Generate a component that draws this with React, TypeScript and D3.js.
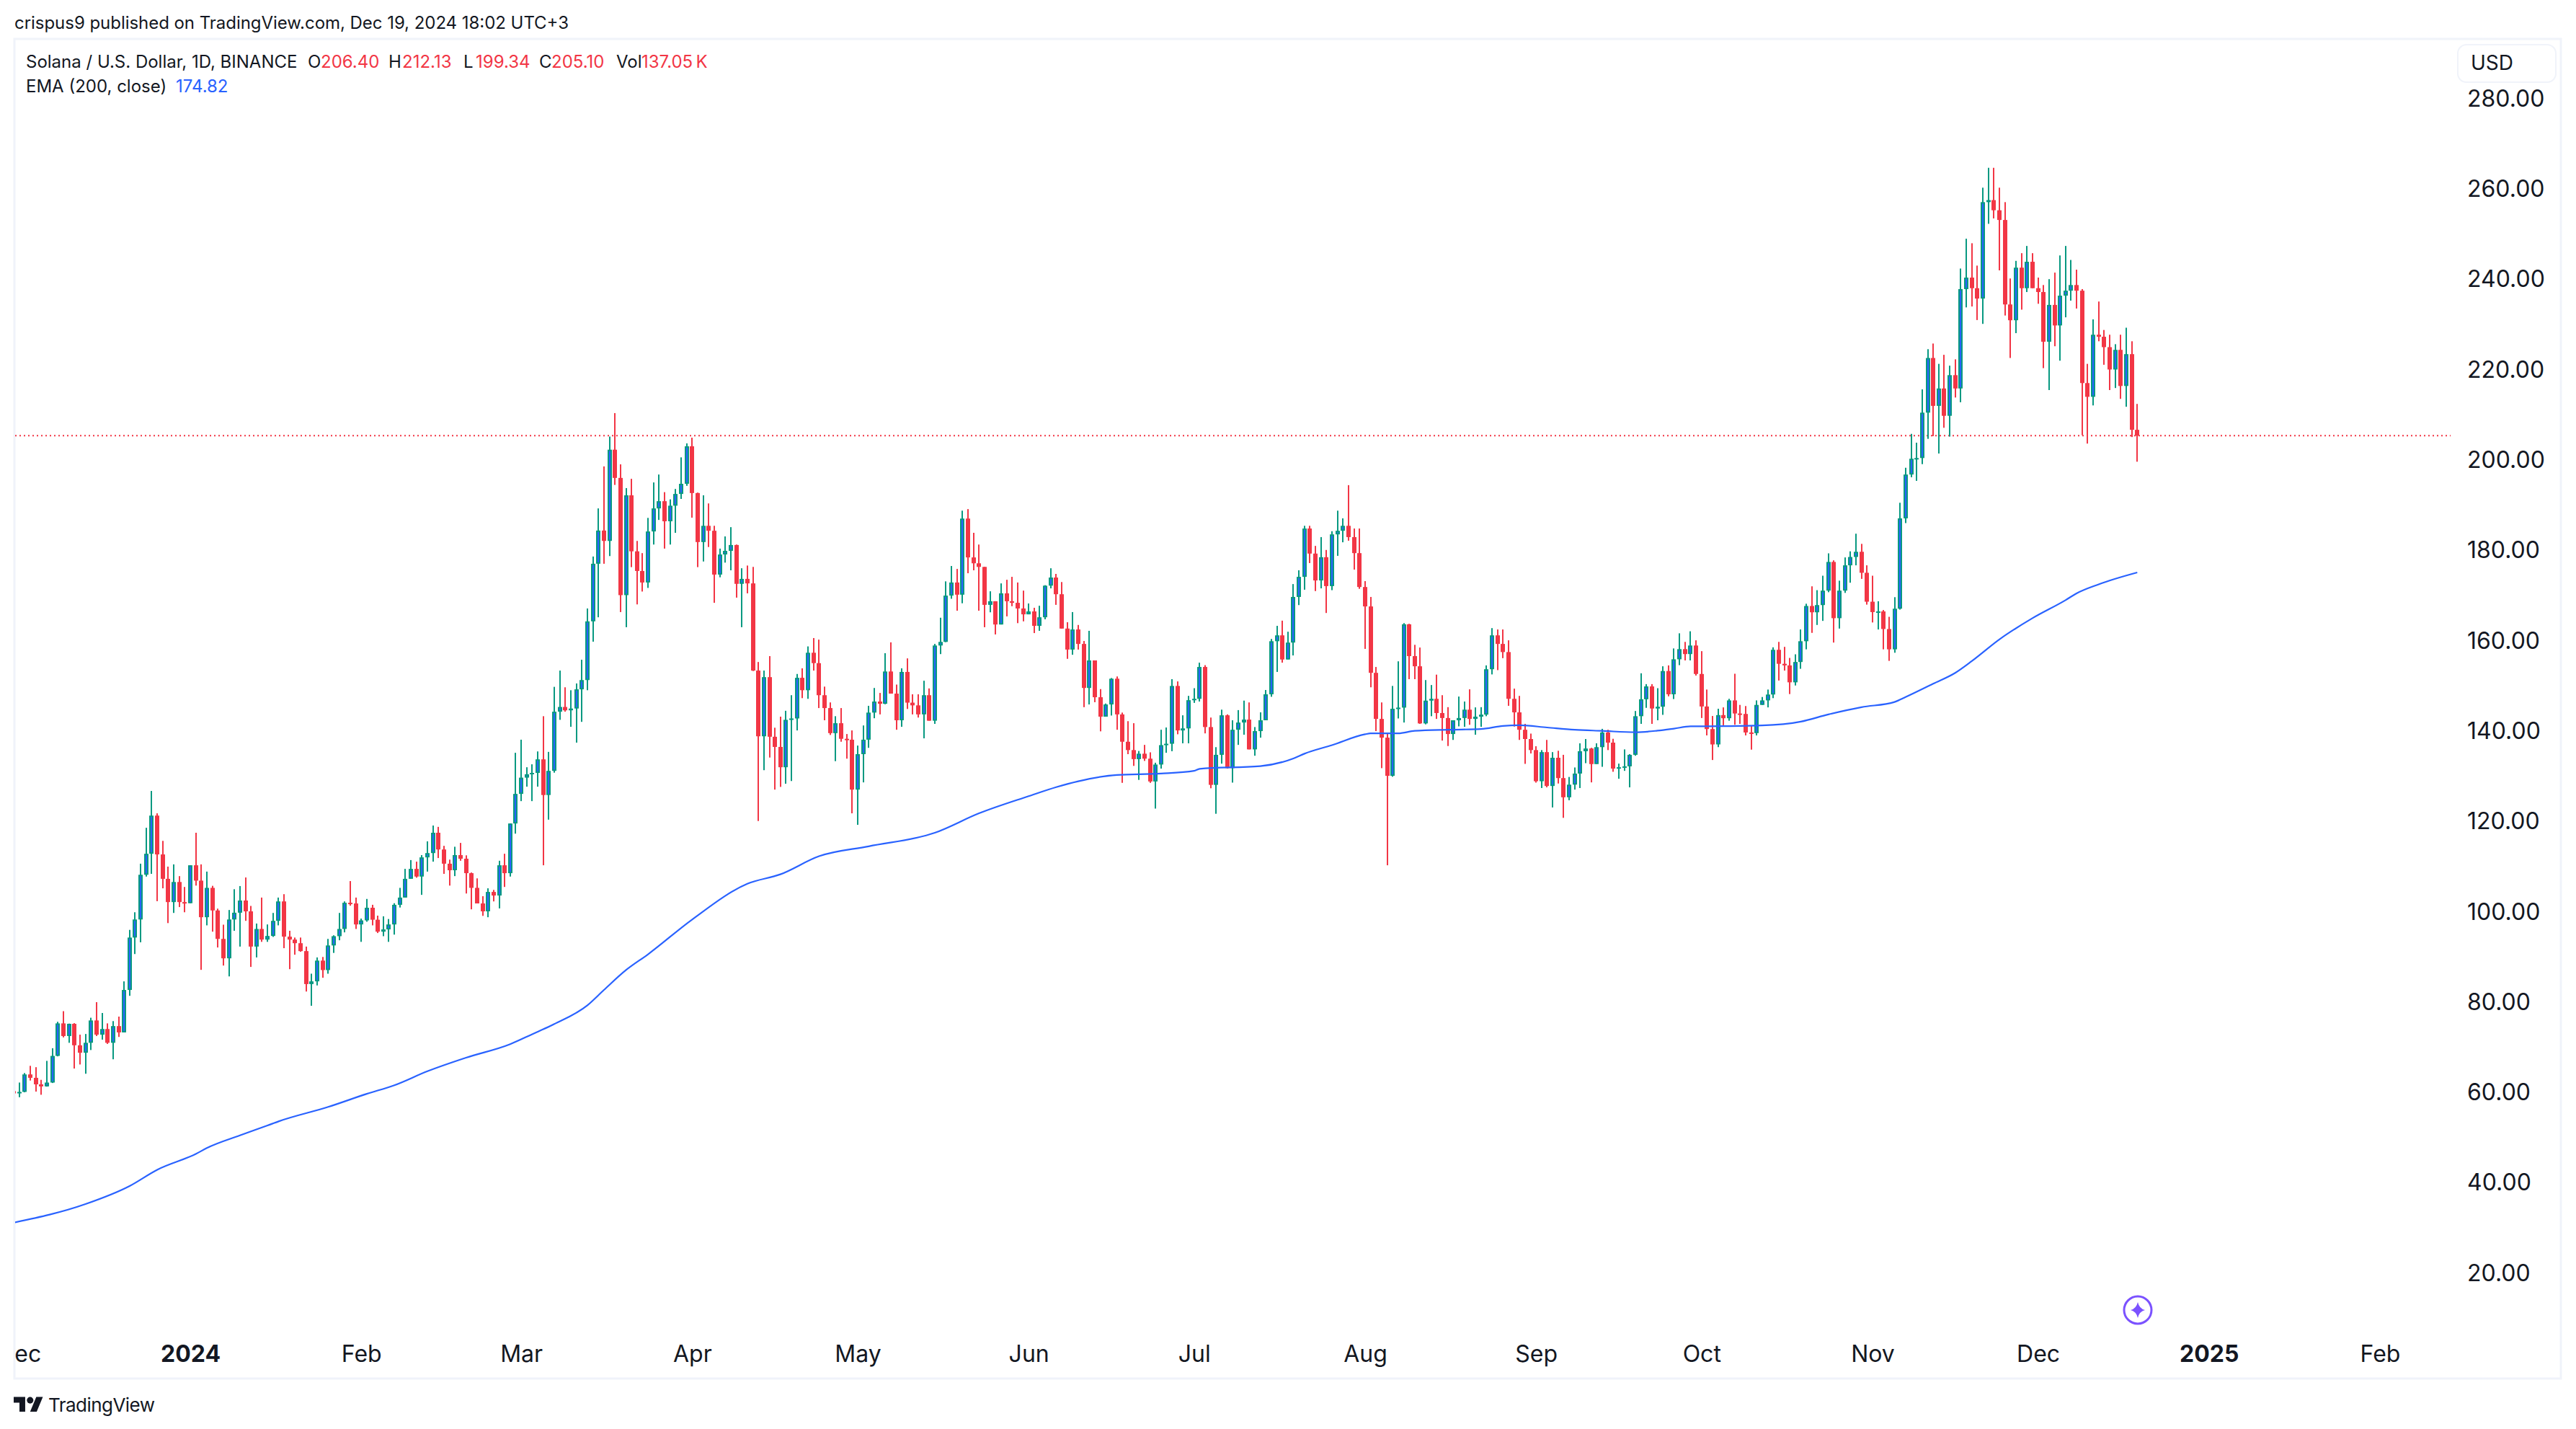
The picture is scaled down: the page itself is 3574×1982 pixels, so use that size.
import { useEffect, useRef } from 'react';
import * as d3 from 'd3';

const WIDTH = 3574;
const HEIGHT = 1982;
const FONT = 'Inter, "Noto Sans", sans-serif';
const UP = '#089981';
const UP_CORE = '#2962FF';
const DOWN = '#F23645';
const INK = '#131722';
const FRAME = '#F0F3FA';

const firstDay = new Date(Date.UTC(2023, 10, 30));
const firstOpen = 60;

// daily closes from 30 Nov 2023 (open = previous close)
const closes = [
  59.5, 59.83, 63.7, 62.95, 61.5, 61.05, 61.9, 67.8, 75, 72.2,
  74.9, 70.15, 68.5, 70.7, 75.65, 72.5, 73.75, 70.7, 74.4, 73,
  82.4, 94, 98, 107.9, 112.55, 121, 112.4, 107, 101.85, 106.3,
  101.85, 101.6, 110, 106.6, 98.5, 105, 100, 93.7, 89.4, 98,
  99.5, 102.2, 99.8, 92, 95.9, 93.55, 94.35, 97.7, 102, 94.2,
  93.55, 92.75, 91, 83.7, 84.3, 88.9, 86.8, 92.25, 94.3, 95.9,
  101.7, 101.55, 96.9, 97.8, 100.6, 97.95, 95.3, 95.8, 96.9, 101.25,
  102.85, 107, 109.2, 107.5, 111.75, 112.7, 117.2, 113.5, 110.35, 108.9,
  112.25, 111.45, 108.25, 105, 101.55, 99.8, 104.1, 103.3, 110, 108.25,
  119.25, 125.8, 129.4, 130.15, 130.45, 133.45, 125.55, 130.9, 144, 145.05,
  144.3, 144.7, 148.95, 151, 164, 176.75, 184.1, 181.8, 202, 195.75,
  169.8, 191.9, 179.5, 175.15, 172.6, 183.9, 189, 190.6, 186.15, 189.6,
  192.2, 194.45, 202.75, 192.4, 181.55, 185.15, 184.05, 174.35, 178.8, 179.6,
  180.9, 172.3, 173.4, 172.4, 153.1, 138.55, 151.65, 138.45, 136.2, 131.7,
  142.2, 142.5, 151.5, 148.75, 157.05, 154.75, 147.65, 144.8, 139.25, 141.45,
  138, 137.8, 126.75, 134.6, 137.8, 143.8, 146.25, 145.75, 152.9, 148,
  142.1, 152.8, 146, 145.4, 143.4, 147.65, 142, 158.65, 159.45, 169.7,
  172.6, 169.9, 186.75, 178.15, 176.85, 176.05, 167.65, 168.45, 163.3, 170.2,
  168.45, 168.1, 166.85, 165.55, 166.2, 163, 164.9, 171.9, 173.7, 170,
  162.4, 157.75, 162.2, 159, 149.25, 155.35, 147.2, 142.9, 145.6, 151.3,
  143.4, 137.35, 135.5, 133.5, 134.7, 133.6, 128.55, 132.3, 136.6, 136.9,
  149.7, 139.85, 140.3, 146.55, 146.85, 153.9, 140.6, 127.8, 134.45, 143.2,
  131.5, 140, 141.6, 142.25, 135.65, 139.7, 142.1, 147.85, 159.6, 160.9,
  155.55, 159.3, 169.4, 173.85, 184.55, 179, 173.05, 178.2, 171.8, 183.25,
  184.05, 185.15, 182.65, 179.1, 171.6, 167.3, 152.6, 142.4, 138.25, 129.8,
  144.65, 144.9, 163.35, 156.3, 154.05, 141.4, 146.45, 146.85, 143.7, 142.6,
  139.05, 142.1, 142.6, 144.45, 142.4, 142.9, 143.35, 153.4, 160.9, 159,
  157.2, 146.85, 143.85, 140, 137.95, 135.5, 128.6, 135.05, 127.55, 133.8,
  129.3, 125.05, 127.85, 130.3, 135.25, 135.85, 132.4, 136.15, 139.4, 137.15,
  131.4, 131.7, 131.9, 134.45, 143, 146.75, 149.6, 144.7, 145.1, 153,
  147.85, 155.6, 157.85, 156.75, 158.65, 152.35, 145.15, 140.15, 136.75, 143.25,
  142.55, 146.5, 143.6, 143.5, 139.4, 139.25, 145.5, 146.5, 147.8, 157.7,
  154.6, 154.25, 150.5, 155, 159.6, 167.4, 166, 167.6, 170.8, 177.15,
  164.7, 170.8, 176.4, 178.25, 179.4, 174.75, 168.35, 166.05, 166.2, 162.3,
  157.8, 166.8, 186.8, 196.5, 200, 200.15, 210.2, 222.3, 211.7, 215.55,
  209.5, 218.5, 215.55, 237.55, 240.1, 237.75, 235.45, 256.8, 257.25, 255,
  252.85, 234.15, 230.65, 242.3, 237.75, 243.6, 237.75, 236.9, 225.9, 234.05,
  229.5, 236.1, 237.2, 238.45, 237.2, 216.75, 213.7, 227.45, 227, 224.7,
  219.75, 224.1, 216.1, 223.15, 206.4, 205.1,
];

const highs = [
  60, 61.9, 64, 65.6, 65.3, 62.5, 66.7, 69.5, 75.35, 77.7,
  74.95, 75.05, 72.5, 72.65, 76.25, 79.7, 77.3, 75, 75.5, 76.5,
  84.3, 95.7, 99.6, 110.35, 118.3, 126.45, 121.5, 115.4, 109.7, 110.2,
  107.6, 105.2, 110, 117.2, 110.2, 108.6, 105.45, 100.4, 96.85, 100.1,
  104.7, 105.4, 107.3, 101, 97.1, 102.85, 96.9, 99.45, 102.85, 103.6,
  95.5, 94, 94, 92, 86, 89.6, 89.7, 93.7, 94.5, 99.45,
  102, 106.5, 102.85, 98.2, 102.55, 101.25, 98.85, 98.7, 98.1, 101.6,
  105, 109.2, 111.15, 110.8, 112.25, 115.3, 118.8, 118.5, 114.3, 111.25,
  114.1, 114.95, 112.2, 108.4, 107.1, 103.15, 104.9, 104.55, 111, 112.55,
  119.25, 134.9, 137.8, 131.7, 132.35, 135.2, 143, 135.1, 149.5, 153.1,
  149.4, 148.75, 150.25, 155.5, 166.85, 178.35, 189, 198.3, 204.9, 210.1,
  198.75, 193.5, 195.55, 181.8, 179.1, 186.9, 194.75, 196.5, 192.6, 191,
  193.3, 200.3, 203.4, 204.65, 192.5, 191.9, 190.1, 185.15, 180.1, 182.8,
  184.85, 181, 175.75, 176.35, 176.05, 155, 153.1, 156.3, 140.45, 142.9,
  144.2, 147.65, 152.35, 153.6, 158.45, 160.3, 159.95, 149.55, 146.05, 143,
  144.8, 139.05, 139.85, 136.5, 140.95, 145.3, 149.25, 148.15, 156.95, 159.35,
  150, 153.6, 155.8, 147.85, 147.85, 150.85, 149.15, 159, 164.8, 172.85,
  176.25, 175.6, 188.5, 188.85, 183.6, 181, 176.05, 170.65, 168.45, 172.4,
  173.2, 173.85, 172.6, 170.8, 167.95, 167, 167.45, 172, 175.75, 174.5,
  172.7, 163.8, 166.05, 163.2, 159.65, 161.9, 155.2, 149, 145.8, 151.45,
  151.8, 143.8, 141.9, 141.45, 135.3, 136.65, 135, 132.7, 140, 140.5,
  151.2, 150.7, 143.2, 147.5, 149.2, 154.85, 154.3, 142.7, 136.15, 144.45,
  143.4, 142.1, 144.35, 146.45, 146.05, 140.6, 143.85, 148.8, 160.1, 163,
  164.15, 161.7, 172.25, 175.3, 185.15, 185.15, 180.7, 182.65, 179.8, 183.95,
  188.5, 186.8, 194.15, 184.55, 184.55, 172.9, 169.4, 153.9, 146.05, 139.2,
  149.7, 155.15, 163.6, 163.45, 158.8, 158.2, 151, 149.9, 152.2, 147.65,
  145, 142.1, 147.35, 146.25, 148.95, 144.95, 145, 154.25, 162.5, 162.2,
  162.2, 159.8, 149.1, 147.5, 141.3, 139.15, 136.35, 135.5, 137.75, 135.05,
  135.35, 134.45, 129.55, 131.65, 137, 137.95, 136, 137, 140.2, 140,
  138, 132.5, 135.65, 134.6, 144.15, 152.5, 150.1, 150.1, 149.2, 154.05,
  154.25, 158, 161.35, 159.45, 161.8, 159.8, 157.4, 148.9, 143.05, 144.65,
  144.95, 146.85, 152.4, 145.5, 145.25, 140.85, 146.5, 147.25, 148.9, 158.25,
  159.45, 158.35, 155.9, 156.7, 162.2, 167.9, 171.75, 170.9, 174.1, 179.05,
  177.5, 173, 178.15, 179.5, 183.4, 181.15, 176.4, 174.1, 168.45, 166.5,
  165, 169.35, 190.25, 198, 205.5, 203.55, 215.35, 224.25, 225.5, 221,
  223, 220.6, 222, 242.1, 248.7, 247.7, 242.75, 260, 264.4, 264.4,
  260, 256.8, 239.9, 243.8, 245.5, 247.1, 245.5, 240.1, 238.45, 239.75,
  241.2, 245, 247.1, 244, 241.85, 237.55, 221, 230.85, 234.8, 228.5,
  227.45, 225.35, 227.45, 229, 226, 212.13,
];

const lows = [
  59, 58.65, 59.75, 62.35, 59.9, 59.2, 61, 61.8, 67.7, 71.9,
  70.7, 65, 65.9, 63.85, 69.1, 72.2, 71.4, 70.45, 67.05, 72,
  73, 81.1, 90.35, 92.95, 107.5, 108.1, 102.05, 104.9, 97.2, 99.45,
  100.75, 99.6, 101.6, 105.5, 86.85, 96.7, 95.3, 91.8, 87.8, 85.4,
  95.5, 92, 97.7, 87.5, 89.6, 93.05, 93.05, 94.15, 96.7, 91.65,
  87, 90.2, 90.85, 82.05, 78.9, 83.4, 85.1, 86, 90.6, 93.4,
  95.15, 101.05, 95.9, 93.05, 97.5, 96.7, 95, 94.3, 93.05, 94.65,
  100.65, 102.85, 107, 107.25, 103.45, 108.6, 110.8, 111.6, 108.1, 105.5,
  107.6, 111, 103.75, 100.25, 101.6, 98.8, 98.5, 102, 100.45, 105.2,
  107.5, 117, 124.2, 127.4, 124.2, 127.4, 110, 120.1, 130.5, 142.2,
  144, 140.65, 137.15, 141.75, 148.75, 159.5, 164.9, 176.75, 178.45, 194.2,
  166.05, 162.7, 176, 167.75, 170.6, 171.4, 181, 186.45, 180.1, 181,
  183.6, 191.1, 194, 186.95, 176, 177.25, 180.45, 168.1, 173.75, 177,
  175.3, 169.25, 162.7, 170.2, 153, 119.8, 131.05, 133.85, 126.75, 127.35,
  128.05, 128.65, 139.85, 147, 146.85, 153.1, 144.8, 142.1, 138.85, 133.05,
  137.35, 133.6, 121.5, 118.95, 128.35, 136, 142.55, 143.4, 145.65, 148,
  140, 140.65, 144.6, 143.4, 142.7, 138.1, 142, 141.3, 156.75, 159.4,
  169, 166.35, 168, 174.65, 175.3, 166.35, 162.7, 166, 161.1, 163.3,
  165.1, 167.35, 163.6, 164, 165.55, 161.4, 161.9, 164.45, 171.3, 167.65,
  162.4, 155.7, 156.6, 157.75, 145, 145.6, 146.1, 139.65, 142.9, 143.15,
  140, 128.25, 134.6, 132, 128.9, 133.1, 128.25, 122.55, 131.4, 134.9,
  135.25, 139, 137, 137, 145.95, 146.25, 139.2, 127.05, 121.4, 132.5,
  131.4, 128.3, 136.65, 138.9, 135.65, 134.25, 138.25, 142.1, 147.3, 152.8,
  154.85, 155.55, 156.45, 167.6, 171, 176.9, 170.7, 171.3, 165.85, 170.9,
  178.5, 181.5, 181.85, 175.45, 171.2, 157.9, 149.4, 139.7, 131.5, 110,
  129.6, 142.5, 141.6, 151.2, 151.2, 141.3, 141.2, 143, 142.4, 137.6,
  136.4, 137.75, 140.75, 140.65, 141.1, 138.9, 140.65, 143, 152.25, 153.2,
  155.85, 145.3, 140.7, 137.75, 132.45, 134.75, 128.3, 127.1, 127.25, 122.8,
  128.1, 120.5, 124.4, 126.75, 127.1, 132.6, 128.35, 132.45, 131.8, 135.5,
  130.7, 129.15, 130.9, 127.25, 134.25, 141.3, 144.85, 141.3, 142.1, 143.3,
  147.4, 146.8, 154.3, 155.35, 155.35, 152, 142.6, 138.75, 133.3, 136.15,
  141, 142, 141.1, 141.3, 138.75, 135.6, 138.75, 145.5, 144.95, 147,
  150.9, 153.1, 147.9, 149.8, 153.5, 157.8, 161.45, 163.2, 164.1, 170.45,
  159.3, 162.4, 170.3, 172.55, 176.4, 173.4, 167.7, 163.75, 162.2, 157.8,
  155.25, 157.05, 166.6, 185.75, 195.9, 195.1, 198.8, 204.4, 205, 201.15,
  206.85, 204.9, 213.55, 212.5, 233.5, 233.7, 230.7, 229.85, 252, 253.2,
  241.7, 231.7, 222.3, 227.8, 233, 236.9, 237.75, 234.3, 220.05, 215.2,
  224.9, 221.7, 231.3, 235, 233.25, 205.2, 203.35, 211.8, 226, 220.8,
  215.2, 215.65, 213.25, 211.5, 204.8, 199.34,
];

// EMA 200 read at candle offsets along the line
const emaDays = [
  0, 13, 21, 26, 33, 35, 41, 46, 48, 57, 64, 69, 75, 82, 90, 94, 98, 104, 107, 111, 115,
  123, 133, 139, 146, 155, 167, 175, 184, 189, 193, 200, 208, 214, 215, 226, 232, 234, 239,
  245, 246, 251, 254, 260, 266, 270, 273, 278, 283, 288, 294, 298, 301, 304, 310, 317, 324,
  329, 335, 341, 343, 348, 352, 355, 360, 366, 372, 374, 378, 385,
];
const emaValues = [
  30.9, 35, 39, 42.6, 46.1, 47.4, 50.2, 52.4, 53.3, 56.5, 59.4, 61.3, 64.4, 67.4, 70.4, 72.6, 74.85, 79, 82.4, 86.8, 90.3,
  98, 105.9, 108, 112, 114.2, 117.2, 121.5, 125.3, 127.3, 128.6, 130, 130.3, 130.9, 131.35, 131.95, 133.65, 134.7, 136.6,
  139, 139.2, 139.2, 139.75, 140, 140.15, 140.85, 141, 140.5, 140, 139.75, 139.45, 139.8, 140.25, 140.75, 140.8, 140.95, 141.8,
  143.4, 145, 146.15, 147.25, 150.2, 152.6, 155.2, 160, 164.7, 168.7, 170.2, 172.2, 174.82,
];

const lastPrice = 205.1;
const priceTicks = d3.range(20, 281, 20);
const monthTicks = [
  new Date(Date.UTC(2023, 11, 1)), new Date(Date.UTC(2024, 0, 1)), new Date(Date.UTC(2024, 1, 1)),
  new Date(Date.UTC(2024, 2, 1)), new Date(Date.UTC(2024, 3, 1)), new Date(Date.UTC(2024, 4, 1)),
  new Date(Date.UTC(2024, 5, 1)), new Date(Date.UTC(2024, 6, 1)), new Date(Date.UTC(2024, 7, 1)),
  new Date(Date.UTC(2024, 8, 1)), new Date(Date.UTC(2024, 9, 1)), new Date(Date.UTC(2024, 10, 1)),
  new Date(Date.UTC(2024, 11, 1)), new Date(Date.UTC(2025, 0, 1)), new Date(Date.UTC(2025, 1, 1)),
];

const legendBlack = [
  ['Solana / U.S. Dollar, 1D, BINANCE', 36], ['O', 427], ['H', 539], ['L', 643], ['C', 748], ['Vol', 855],
] as const;
const legendRed = [['206.40', 445], ['212.13', 558], ['199.34', 660], ['205.10', 765], ['137.05\u202fK', 890]] as const;

interface Candle {
  date: Date;
  open: number;
  close: number;
  high: number;
  low: number;
}

const candles: Candle[] = closes.map((close, i) => ({
  date: d3.utcDay.offset(firstDay, i),
  open: i === 0 ? firstOpen : closes[i - 1],
  close,
  high: highs[i],
  low: lows[i],
}));

export default function App() {
  const svgRef = useRef<SVGSVGElement>(null);

  useEffect(() => {
    if (!svgRef.current) return;
    const svg = d3.select(svgRef.current);
    svg.selectAll('.chart').remove();

    const xScale = d3.scaleUtc()
      .domain([new Date(Date.UTC(2024, 0, 1)), new Date(Date.UTC(2025, 1, 1))])
      .range([264, 3302]);
    const yScale = d3.scaleLinear().domain([280, 20]).range([135, 1764]);
    const px = (d: Date) => Math.round(xScale(d));

    const g = svg.append('g').attr('class', 'chart');

    // Last price line
    g.append('line')
      .attr('x1', 21).attr('x2', 3400)
      .attr('y1', yScale(lastPrice)).attr('y2', yScale(lastPrice))
      .attr('stroke', DOWN).attr('stroke-width', 2).attr('stroke-dasharray', '2 4');

    const plot = g.append('g').attr('clip-path', 'url(#plot-clip)');

    // Wicks
    plot.append('g').selectAll('rect').data(candles).join('rect')
      .attr('x', d => px(d.date) - 1)
      .attr('width', 2)
      .attr('y', d => yScale(d.high))
      .attr('height', d => yScale(d.low) - yScale(d.high))
      .attr('fill', d => (d.close >= d.open ? UP : DOWN));

    // Bodies
    const bodyTop = (d: Candle) => yScale(Math.max(d.open, d.close));
    const bodyHeight = (d: Candle) => Math.max(2, Math.abs(yScale(d.open) - yScale(d.close)));
    plot.append('g').selectAll('rect').data(candles).join('rect')
      .attr('x', d => px(d.date) - 3)
      .attr('width', 6)
      .attr('y', bodyTop)
      .attr('height', bodyHeight)
      .attr('fill', d => (d.close >= d.open ? UP : DOWN));

    // Up candles have a blue core inside the green border
    plot.append('g').selectAll('rect').data(candles.filter(d => d.close >= d.open && bodyHeight(d) > 4)).join('rect')
      .attr('x', d => px(d.date) - 1)
      .attr('width', 2)
      .attr('y', d => bodyTop(d) + 2)
      .attr('height', d => bodyHeight(d) - 4)
      .attr('fill', UP_CORE);

    // EMA
    const emaLine = d3.line<number>()
      .x((_, i) => xScale(d3.utcDay.offset(firstDay, emaDays[i])))
      .y(d => yScale(d))
      .curve(d3.curveMonotoneX);
    plot.append('path')
      .datum(emaValues)
      .attr('fill', 'none')
      .attr('stroke', UP_CORE)
      .attr('stroke-width', 2.2)
      .attr('d', emaLine);

    // Price axis
    const yAxis = g.append('g')
      .attr('transform', 'translate(3423,2)')
      .call(d3.axisRight(yScale).tickValues(priceTicks).tickFormat(d3.format('.2f') as any).tickSize(0).tickPadding(0));
    yAxis.select('.domain').remove();
    yAxis.selectAll('text')
      .attr('font-family', FONT).attr('font-size', 32).attr('fill', INK);

    // Time axis
    const xAxis = g.append('g')
      .attr('transform', 'translate(0,1866)')
      .attr('clip-path', 'url(#time-clip)')
      .call(d3.axisBottom(xScale).tickValues(monthTicks).tickSize(0).tickPadding(0)
        .tickFormat(d => {
          const date = d as Date;
          return date.getUTCMonth() === 0 ? String(date.getUTCFullYear()) : d3.utcFormat('%b')(date);
        }));
    xAxis.select('.domain').remove();
    xAxis.selectAll<SVGTextElement, Date>('text')
      .attr('font-family', FONT).attr('font-size', 32).attr('fill', INK)
      .attr('font-weight', d => (d.getUTCMonth() === 0 ? 700 : 400));

    return () => {
      svg.selectAll('.chart').remove();
    };
  }, []);

  return (
    <svg
      ref={svgRef}
      width={WIDTH}
      height={HEIGHT}
      style={{ position: 'absolute', left: 0, top: 0, display: 'block', background: '#fff' }}
    >
      <defs>
        <clipPath id="plot-clip"><rect x={21} y={54} width={3380} height={1800} /></clipPath>
        <clipPath id="time-clip"><rect x={21} y={-10} width={3380} height={60} /></clipPath>
      </defs>

      <text x={20} y={40} fontFamily={FONT} fontSize={24} fill={INK} textLength={769}>
        crispus9 published on TradingView.com, Dec 19, 2024 18:02 UTC+3
      </text>

      <rect x={20} y={54} width={3533} height={1858} fill="none" stroke={FRAME} strokeWidth={3} />

      {legendBlack.map(([label, x]) => (
        <text key={label} x={x} y={94} fontFamily={FONT} fontSize={24} fill={INK}>{label}</text>
      ))}
      {legendRed.map(([label, x]) => (
        <text key={label} x={x} y={94} fontFamily={FONT} fontSize={24} fill={DOWN}>{label}</text>
      ))}
      <text x={36} y={128} fontFamily={FONT} fontSize={24} fill={INK}>EMA (200, close)</text>
      <text x={244} y={128} fontFamily={FONT} fontSize={24} fill="#2962FF">174.82</text>

      <rect x={3410} y={62} width={136} height={52} rx={12} fill="#fff" stroke={FRAME} strokeWidth={2} />
      <text x={3428} y={97} fontFamily={FONT} fontSize={28} fill={INK}>USD</text>

      <g transform="translate(2966,1817)">
        <circle r={19} fill="#fff" stroke="#7B52FF" strokeWidth={3} />
        <path d="M0,-11 Q2,-2 10,0 Q2,2 0,11 Q-2,2 -10,0 Q-2,-2 0,-11Z" fill="#7B52FF" />
      </g>

      <g transform="translate(19,1933) scale(1.14)" fill={INK}>
        <path d="M14 22H7V11H0V4h14v18zM28 22h-8l7.5-18h8L28 22z" />
        <circle cx={20} cy={8} r={4} />
      </g>
      <text x={67} y={1958} fontFamily={FONT} fontSize={26} fill={INK} textLength={148}>TradingView</text>
    </svg>
  );
}
